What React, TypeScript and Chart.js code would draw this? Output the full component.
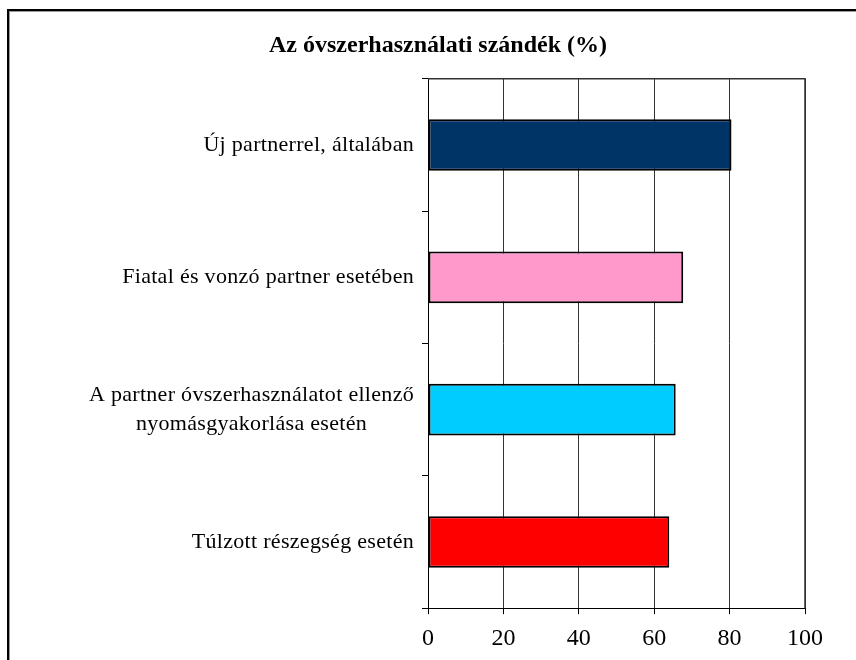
import React, { useEffect, useRef } from "react";
import { Chart, registerables } from "chart.js";

Chart.register(...registerables);

const TITLE = "Az óvszerhasználati szándék (%)";
const categories: (string | string[])[] = [
  "Új partnerrel, általában",
  "Fiatal és vonzó partner esetében",
  ["A partner óvszerhasználatot ellenző", "nyomásgyakorlása esetén"],
  "Túlzott részegség esetén",
];
const values = [80.5, 67.7, 65.7, 64.0];
const barColors = ["#003366", "#FF99CC", "#00CCFF", "#FF0000"];
const xTicks = [0, 20, 40, 60, 80, 100];

const SERIF = "'Liberation Serif', 'Times New Roman', serif";

const yLabelPlugin = {
  id: "yLabels",
  afterDraw(chart: any) {
    const { ctx, chartArea } = chart;
    const yScale = chart.scales.y;
    const labels = chart.data.labels as (string | string[])[];
    ctx.save();
    ctx.font = `22px ${SERIF}`;
    try {
      (ctx as any).letterSpacing = "0.3px";
    } catch (e) {}
    ctx.fillStyle = "#000";
    ctx.textBaseline = "middle";
    const right = chartArea.left - 14;
    const lh = 29;
    labels.forEach((lab, i) => {
      const y = yScale.getPixelForValue(i);
      const lines = Array.isArray(lab) ? lab : [lab];
      if (lines.length === 1) {
        ctx.textAlign = "right";
        ctx.fillText(lines[0], right, y);
      } else {
        const maxW = Math.max(...lines.map((l) => ctx.measureText(l).width));
        const cx = right - maxW / 2;
        ctx.textAlign = "center";
        const start = y - ((lines.length - 1) * lh) / 2;
        lines.forEach((l, k) => ctx.fillText(l, cx, start + k * lh));
      }
    });
    ctx.restore();
  },
};

const plotBorderPlugin = {
  id: "plotBorder",
  afterDatasetsDraw(chart: any) {
    const { ctx, chartArea } = chart;
    ctx.save();
    ctx.strokeStyle = "#333";
    ctx.lineWidth = 1.5;
    ctx.beginPath();
    ctx.moveTo(chartArea.left, chartArea.top);
    ctx.lineTo(chartArea.right, chartArea.top);
    ctx.lineTo(chartArea.right, chartArea.bottom);
    ctx.stroke();
    ctx.restore();
  },
};

export default function App() {
  const ref = useRef<HTMLCanvasElement | null>(null);

  useEffect(() => {
    if (!ref.current) return;
    const chart = new Chart(ref.current, {
      type: "bar",
      data: {
        labels: categories as any,
        datasets: [
          {
            data: values,
            backgroundColor: barColors,
            borderColor: "#000",
            borderWidth: 2,
            borderSkipped: false,
            barPercentage: 0.39,
            categoryPercentage: 1,
          },
        ],
      },
      options: {
        indexAxis: "y",
        animation: false,
        responsive: false,
        devicePixelRatio: 1,
        layout: { padding: { top: 0, left: 71, right: 71, bottom: 17 } },
        plugins: {
          legend: { display: false },
          tooltip: { enabled: false },
          title: {
            display: true,
            text: TITLE,
            color: "#000",
            font: { family: SERIF, size: 24, weight: "bold", lineHeight: 1.2 },
            padding: { top: 31, bottom: 19 },
          },
        },
        scales: {
          x: {
            type: "linear",
            min: 0,
            max: 100,
            afterBuildTicks(scale: any) {
              scale.ticks = xTicks.map((v) => ({ value: v }));
            },
            ticks: {
              color: "#000",
              font: { family: SERIF, size: 24 },
              padding: 10,
            },
            grid: {
              color: "#333",
              lineWidth: 1,
              drawTicks: true,
              tickLength: 6,
              tickColor: "#000",
            },
            border: { color: "#000", width: 1 },
          },
          y: {
            type: "category",
            offset: true,
            ticks: { display: false },
            afterFit(scale: any) {
              scale.width = 357;
            },
            grid: {
              offset: true,
              drawOnChartArea: false,
              drawTicks: true,
              tickLength: 6,
              color: "#000",
              tickColor: "#000",
            },
            border: { color: "#000", width: 1 },
          },
        },
      },
      plugins: [yLabelPlugin, plotBorderPlugin],
    });
    return () => chart.destroy();
  }, []);

  return (
    <div
      style={{
        position: "fixed",
        left: 0,
        top: 0,
        width: 856,
        height: 660,
        background: "#fff",
        overflow: "hidden",
      }}
    >
      <canvas
        ref={ref}
        width={876}
        height={680}
        style={{ position: "absolute", left: 0, top: 0, width: 876, height: 680 }}
      />
      <div
        style={{
          position: "absolute",
          left: 7,
          top: 9,
          width: 900,
          height: 700,
          border: "2px solid #000",
          boxShadow: "inset 1px 1px 0 #999",
          pointerEvents: "none",
        }}
      />
    </div>
  );
}
